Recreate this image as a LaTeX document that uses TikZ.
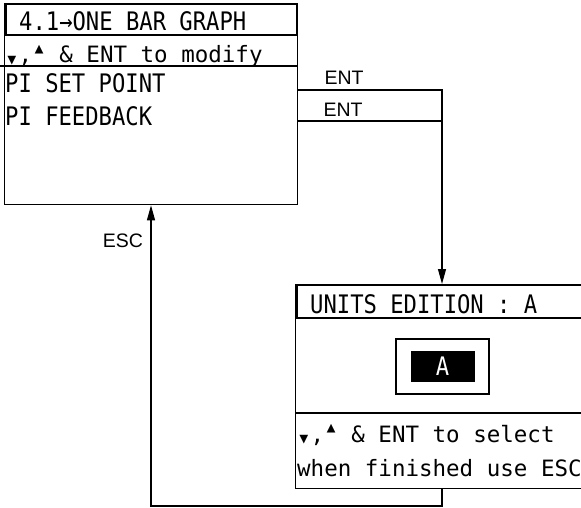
\documentclass[tikz,border=0pt]{standalone}
\usepackage{fontspec}
\usepackage{tikz}
\usetikzlibrary{arrows.meta, positioning}
\newfontfamily\lcdfont[FakeStretch=0.87]{DejaVu Sans Mono}
\newfontfamily\hintfont{DejaVu Sans Mono}
\newfontfamily\keyfont{Liberation Sans}
\newcommand{\lcdbig}{\lcdfont\fontsize{25.5}{25.5}\selectfont}
\newcommand{\lcdhint}{\hintfont\fontsize{22.5}{22.5}\selectfont}
\tikzset{
  screen/.style={rectangle, draw, line width=1.3pt, anchor=north west, inner sep=0pt},
  titlebar/.style={rectangle, draw, line width=2.2pt, anchor=north west, inner sep=0pt},
  lcdtext/.style={anchor=base west, inner sep=0pt, font=\lcdbig},
  hinttext/.style={anchor=base west, inner sep=0pt, font=\lcdhint},
  divider/.style={line width=2.6pt},
  link/.style={line width=1.1pt},
  arrow/.style={link, -{Triangle[length=15pt, width=8pt]}},
  keylabel/.style={font=\keyfont\fontsize{19.5}{19.5}\selectfont, inner sep=0pt}
}

\begin{document}
\begin{tikzpicture}[x=1pt, y=-1pt]
  \useasboundingbox (0,0) rectangle (581,508);
  \clip (0,0) rectangle (581,508);

  % Menu screen
  \node[screen, minimum width=293pt, minimum height=201pt] (menu) at (4,3) {};
  \node[titlebar, minimum width=291pt, minimum height=31pt] (menutitle) at (5,3) {};
  \node[lcdtext] (menuname) at (19,31) {4.1→ONE BAR GRAPH};
  \node[hinttext] (menuhint) at (5,63) {\raisebox{-0.15em}{▾},\raisebox{0.35em}{▴} \& ENT to modify};
  \draw[divider] (0,66) -- (298,66);
  \node[lcdtext] (setpoint) at (5,93) {PI SET POINT};
  \node[lcdtext] (feedback) at (5,126) {PI FEEDBACK};

  % Units edition screen
  \node[screen, minimum width=310pt, minimum height=204pt] (units) at (295,284) {};
  \node[titlebar, minimum width=310pt, minimum height=33pt] (unitstitle) at (296,284) {};
  \node[lcdtext] (unitsname) at (310,313) {UNITS EDITION : A};
  \node[rectangle, draw, line width=2.2pt, minimum width=93pt, minimum height=55pt, anchor=north west] (unitframe) at (395,338) {};
  \node[fill=black, text=white, minimum width=64pt, minimum height=31pt, font=\lcdbig, inner sep=0pt] (unitvalue) at (unitframe.center) {A};
  \draw[divider] (295,413) -- (600,413);
  \node[hinttext] (unitshint) at (297,442) {\raisebox{-0.15em}{▾},\raisebox{0.35em}{▴} \& ENT to select};
  \node[hinttext] (unitsdone) at (297,476) {when finished use ESC};

  % ENT transitions
  \coordinate (drop) at (442,90);
  \coordinate (join) at (442,121);
  \draw[arrow] (menu.east |- drop) -- (drop) -- (drop |- units.north);
  \draw[link] (menu.east |- join) -- (join);
  \node[keylabel] (ent1) at (344,78) {ENT};
  \node[keylabel] (ent2) at (343,110) {ENT};

  % ESC return
  \coordinate (back) at (151,506);
  \draw[arrow] (drop |- units.south) |- (back) -- (back |- menu.south);
  \node[keylabel] (esc) at (123,241) {ESC};
\end{tikzpicture}
\end{document}
